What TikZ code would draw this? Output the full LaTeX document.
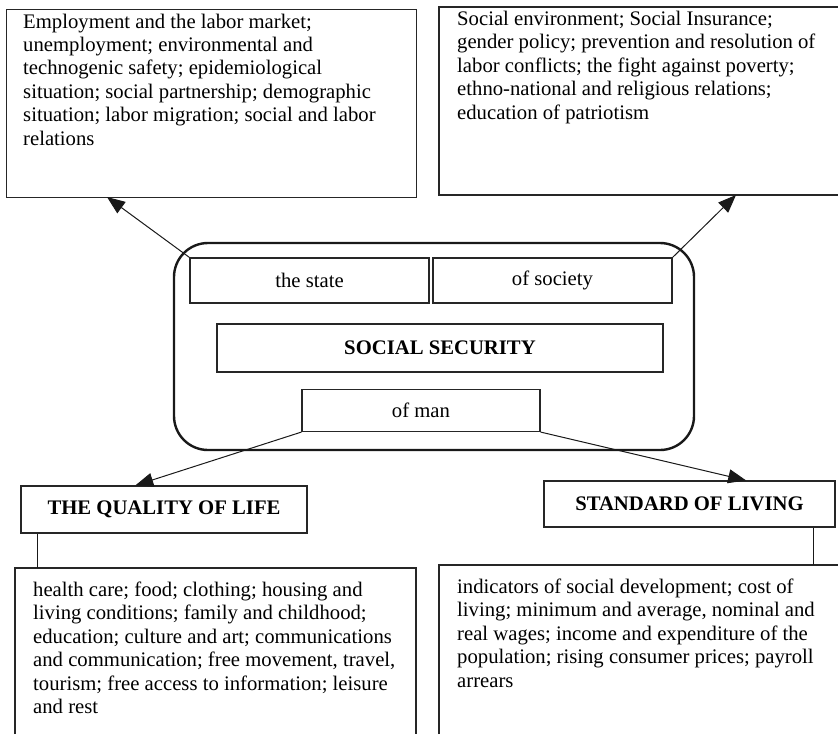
\documentclass[tikz,border=0pt]{standalone}
\usepackage{fontspec}
\setmainfont{Liberation Serif}
\usetikzlibrary{arrows.meta,calc}
\begin{document}
\begin{tikzpicture}[x=1pt,y=-1pt,
  frame/.style={draw=black!85, line width=1.1pt},
  box/.style={frame, inner sep=0pt, font=\fontsize{20.7}{24}\selectfont},
  txt/.style={anchor=north west, inner sep=0pt, align=left, font=\fontsize{20.7}{23.4}\selectfont},
  arr/.style={draw=black!90, line width=1pt, -{Triangle[length=18pt,width=14pt]}},
  conn/.style={draw=black!90, line width=1pt},
  cont/.style={draw=black!90, line width=2.4pt, rounded corners=34pt, inner sep=0pt}]

\useasboundingbox (0,0) rectangle (838,734);

% top boxes
\node[box, anchor=north west, minimum width=410, minimum height=188] (tl) at (6,9) {};
\draw[frame] (838,7) -- (439,7) -- (439,195) -- (838,195);
\coordinate (trTip) at (736,195);
\coordinate (tlTip) at (107,197);

\node[txt] (tlt) at (23,11.5) {\strut Employment and the labor market;\\
unemployment; environmental and\\
technogenic safety; epidemiological\\
situation; social partnership; demographic\\
situation; labor migration; social and labor\\
relations};
\node[txt] (trt) at (457,9) {\strut Social environment; Social Insurance;\\
gender policy; prevention and resolution of\\
labor conflicts; the fight against poverty;\\
ethno-national and religious relations;\\
education of patriotism};

% central container
\node[cont, minimum width=520, minimum height=207] (cont) at (434,346.5) {};
\node[box, minimum width=239, minimum height=45] (state) at (309.5,280.5) {the state};
\node[box, minimum width=239, minimum height=45] (society) at (552.5,280.5) {of society};
\node[box, minimum width=446, minimum height=48, font=\fontsize{20.7}{24}\selectfont\bfseries] (ss) at (440,348) {SOCIAL SECURITY};
\node[box, minimum width=238, minimum height=42] (man) at (421,410.5) {of man};

% lower headings
\node[box, minimum width=286, minimum height=47, font=\fontsize{20.7}{24}\selectfont\bfseries] (qol) at (164,509.5) {THE QUALITY OF LIFE};
\node[box, minimum width=291, minimum height=46, font=\fontsize{20.7}{24}\selectfont\bfseries] (sol) at (689.5,504) {STANDARD OF LIVING};

% bottom boxes (open at the bottom)
\draw[frame] (15,734) -- (15,568) -- (416,568) -- (416,734);
\draw[frame] (439,734) -- (439,565) -- (838,565);
\coordinate (blTop) at (37,568);
\coordinate (brTop) at (813,565);

\node[txt] (blt) at (33,580) {\strut health care; food; clothing; housing and\\
living conditions; family and childhood;\\
education; culture and art; communications\\
and communication; free movement, travel,\\
tourism; free access to information; leisure\\
and rest};
\node[txt] (brt) at (457,577) {\strut indicators of social development; cost of\\
living; minimum and average, nominal and\\
real wages; income and expenditure of the\\
population; rising consumer prices; payroll\\
arrears};

% connectors
\draw[arr] (state.north west) -- (tlTip);
\draw[arr] (society.north east) -- (trTip);
\draw[arr] (man.south west) -- ($(qol.north west)!0.4!(qol.north east)$);
\draw[arr] (man.south east) -- ($(sol.north west)!0.694!(sol.north east)$);
\draw[conn] (qol.south west -| blTop) -- (blTop);
\draw[conn] (sol.south -| brTop) -- (brTop);
\end{tikzpicture}
\end{document}
